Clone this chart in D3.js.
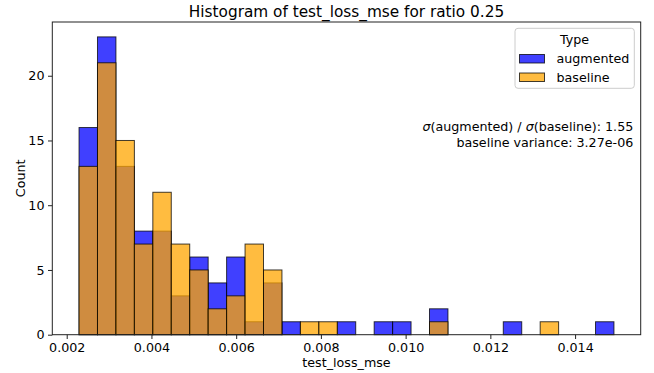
<!DOCTYPE html>
<html lang="en">
<head>
<meta charset="utf-8">
<title>Histogram of test_loss_mse</title>
<style>
  body { margin: 0; background: #fff; }
  svg { display: block; font-family: "DejaVu Sans", sans-serif; }
</style>
<script src="https://cdn.jsdelivr.net/npm/d3@7"></script>
</head>
<body>
<script>
// histogram bins (29 equal bins) and counts
var binStart = 0.002291;
var binWidth = 0.0004354;
var augmented = [16, 23, 13, 8, 8, 3, 6, 4, 6, 1, 4, 1, 0, 0, 1, 0, 1, 1, 0, 2, 0, 0, 0, 1, 0, 0, 0, 0, 1];
var baseline  = [13, 21, 15, 7, 11, 7, 5, 2, 3, 7, 5, 0, 1, 1, 0, 0, 0, 0, 0, 1, 0, 0, 0, 0, 0, 1, 0, 0, 0];
var xTicks = [0.002, 0.004, 0.006, 0.008, 0.010, 0.012, 0.014];
var yTicks = [0, 5, 10, 15, 20];
var series = [
  { name: "augmented", counts: augmented, color: "blue" },
  { name: "baseline", counts: baseline, color: "orange" }
];
var ratioText = "1.55";
var varianceText = "3.27e-06";

var w = 654, h = 373;
var plotL = 52.3, plotR = 640.7, plotT = 22, plotB = 334.7;
var fs = "12.7px";

var svg = d3.select("body").append("svg")
  .attr("width", w)
  .attr("height", h);

var nBins = augmented.length;
var dataLo = binStart, dataHi = binStart + nBins * binWidth;
var pad = (dataHi - dataLo) * 0.05;
var x = d3.scaleLinear().domain([dataLo - pad, dataHi + pad]).range([plotL, plotR]);
var yMax = d3.max(augmented.concat(baseline)) * 1.05;
var y = d3.scaleLinear().domain([0, yMax]).range([plotB, plotT]);

// bars, blue first, orange layered on top
series.forEach(function (s) {
  svg.append("g")
    .selectAll("rect")
    .data(s.counts.map(function (c, i) { return { i: i, c: c }; }).filter(function (d) { return d.c > 0; }))
    .enter()
    .append("rect")
    .attr("x", function (d) { return x(binStart + d.i * binWidth); })
    .attr("y", function (d) { return y(d.c); })
    .attr("width", function (d) { return x(binStart + (d.i + 1) * binWidth) - x(binStart + d.i * binWidth); })
    .attr("height", function (d) { return y(0) - y(d.c); })
    .style("fill", s.color)
    .style("fill-opacity", 0.75)
    .style("stroke", "#000")
    .style("stroke-opacity", 0.75)
    .style("stroke-width", 1);
});

// axes
var xAxis = svg.append("g")
  .attr("transform", "translate(0," + plotB + ")")
  .call(d3.axisBottom(x).tickValues(xTicks).tickFormat(d3.format(".3f")).tickSizeOuter(0).tickSize(4.3).tickPadding(3.5));
var yAxis = svg.append("g")
  .attr("transform", "translate(" + plotL + ",0)")
  .call(d3.axisLeft(y).tickValues(yTicks).tickFormat(d3.format("d")).tickSizeOuter(0).tickSize(4.3).tickPadding(3.5));
[xAxis, yAxis].forEach(function (a) {
  a.select(".domain").remove();
  a.selectAll("text").style("font-family", "DejaVu Sans").style("font-size", fs).style("fill", "#000");
  a.selectAll("line").style("stroke", "#222").style("stroke-width", 1);
});

// frame
svg.append("rect")
  .attr("x", plotL).attr("y", plotT)
  .attr("width", plotR - plotL).attr("height", plotB - plotT)
  .style("fill", "none").style("stroke", "#222").style("stroke-width", 1);

// title and axis labels
svg.append("text")
  .attr("x", (plotL + plotR) / 2).attr("y", 17)
  .style("text-anchor", "middle").style("font-size", "15.3px")
  .text("Histogram of test_loss_mse for ratio 0.25");
svg.append("text")
  .attr("x", (plotL + plotR) / 2).attr("y", 366.5)
  .style("text-anchor", "middle").style("font-size", fs)
  .text("test_loss_mse");
svg.append("text")
  .attr("transform", "translate(24.5," + ((plotT + plotB) / 2) + ") rotate(-90)")
  .style("text-anchor", "middle").style("font-size", fs)
  .text("Count");

// legend
var lg = svg.append("g");
lg.append("rect")
  .attr("x", 515).attr("y", 28.3).attr("width", 119.3).attr("height", 60)
  .attr("rx", 3)
  .style("fill", "#fff").style("fill-opacity", 0.8)
  .style("stroke", "#ccc").style("stroke-width", 1);
lg.append("text")
  .attr("x", 574.5).attr("y", 44)
  .style("text-anchor", "middle").style("font-size", fs)
  .text("Type");
series.forEach(function (s, i) {
  var cy = 58.5 + i * 18.5;
  lg.append("rect")
    .attr("x", 519.5).attr("y", cy - 4).attr("width", 25).attr("height", 8.5)
    .style("fill", s.color).style("fill-opacity", 0.75)
    .style("stroke", "#000").style("stroke-opacity", 0.75).style("stroke-width", 1);
  lg.append("text")
    .attr("x", 556.5).attr("y", cy + 4.5)
    .style("font-size", fs)
    .text(s.name);
});

// annotation
var ann = svg.append("text")
  .attr("x", 633.3).attr("y", 131)
  .style("text-anchor", "end").style("font-size", fs);
ann.append("tspan").style("font-style", "italic").text("\u03c3");
ann.append("tspan").text("(augmented) / ");
ann.append("tspan").style("font-style", "italic").text("\u03c3");
ann.append("tspan").text("(baseline): " + ratioText);
svg.append("text")
  .attr("x", 633.3).attr("y", 146.5)
  .style("text-anchor", "end").style("font-size", fs)
  .text("baseline variance: " + varianceText);
</script>
</body>
</html>
